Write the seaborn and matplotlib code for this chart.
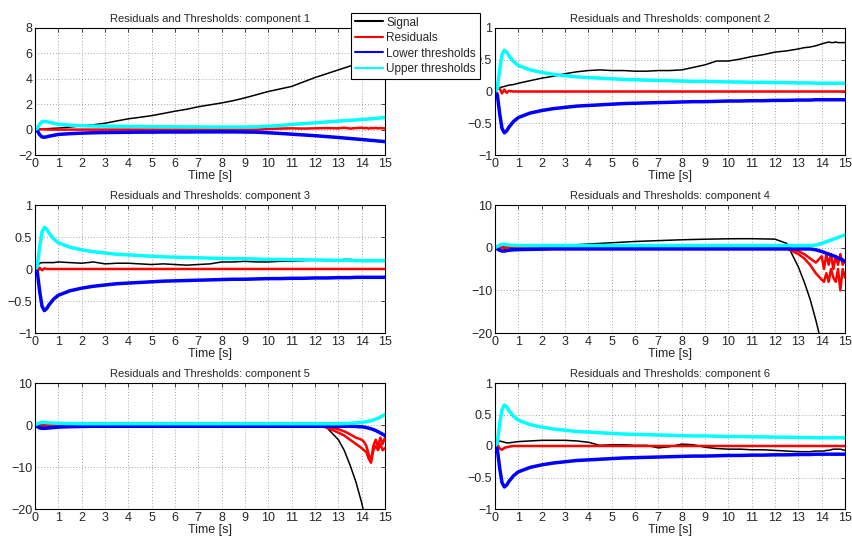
import matplotlib
matplotlib.use("Agg")
import matplotlib.pyplot as plt
from matplotlib.lines import Line2D
from matplotlib.ticker import FuncFormatter, MultipleLocator
import seaborn as sns

# time axis shared by every component
time = [0, 0.1, 0.2, 0.3, 0.4, 0.5, 0.6, 0.8,
        1, 1.5, 2, 2.5, 3, 3.5, 4, 4.5, 5, 5.5, 6, 6.5,
        7, 7.5, 8, 8.5, 9, 9.5, 10, 10.5, 11, 11.5, 12, 12.5,
        13, 13.25, 13.5, 13.75,
        14, 14.1, 14.2, 14.3, 14.4, 14.5, 14.6, 14.7, 14.8, 14.9, 15]

# component 1
signal_1 = [0, 0.02, 0.04, 0.05, 0.06, 0.07, 0.08, 0.1,
            0.12, 0.2, 0.3, 0.38, 0.5, 0.68, 0.85, 0.97, 1.1, 1.27, 1.45, 1.6,
            1.8, 1.95, 2.1, 2.28, 2.5, 2.75, 3.0, 3.2, 3.4, 3.75, 4.1, 4.4,
            4.7, 4.85, 5.0, 5.15,
            5.3, 5.36, 5.42, 5.48, 5.54, 5.6, 5.66, 5.72, 5.78, 5.84, 5.9]
resid_1 = [0, 0, 0.02, 0.03, 0.02, 0.01, 0, 0,
           0, 0, 0, 0, 0, 0, 0, 0, 0, 0, 0, 0,
           0, 0, 0, 0, 0, 0, 0.05, 0.08, 0.1, 0.08, 0.1, 0.12,
           0.1, 0.15, 0.08, 0.12,
           0.15, 0.1, 0.13, 0.08, 0.12, 0.1, 0.14, 0.09, 0.12, 0.1, 0.1]
lower_1 = [0, -0.1, -0.4, -0.58, -0.6, -0.57, -0.52, -0.45,
           -0.38, -0.32, -0.28, -0.25, -0.23, -0.22, -0.21, -0.2, -0.2, -0.19, -0.19, -0.19,
           -0.18, -0.18, -0.18, -0.18, -0.19, -0.2, -0.25, -0.3, -0.36, -0.42, -0.48, -0.55,
           -0.62, -0.66, -0.7, -0.74,
           -0.78, -0.8, -0.81, -0.83, -0.85, -0.86, -0.88, -0.9, -0.91, -0.93, -0.95]
upper_1 = [0, 0.1, 0.45, 0.62, 0.65, 0.62, 0.58, 0.5,
           0.42, 0.35, 0.3, 0.28, 0.27, 0.26, 0.25, 0.24, 0.23, 0.22, 0.22, 0.21,
           0.21, 0.2, 0.2, 0.2, 0.2, 0.22, 0.27, 0.33, 0.4, 0.47, 0.53, 0.6,
           0.67, 0.7, 0.73, 0.76,
           0.8, 0.81, 0.82, 0.84, 0.85, 0.86, 0.88, 0.9, 0.91, 0.93, 0.95]

# thresholds of components 2, 3 and 6 look the same
lower_small = [0, -0.05, -0.35, -0.58, -0.65, -0.62, -0.56, -0.47,
               -0.41, -0.34, -0.30, -0.27, -0.25, -0.23, -0.22, -0.21, -0.20, -0.19, -0.185, -0.18,
               -0.175, -0.17, -0.165, -0.16, -0.16, -0.155, -0.15, -0.15, -0.145, -0.145, -0.14, -0.14,
               -0.135, -0.135, -0.135, -0.13,
               -0.13, -0.13, -0.13, -0.13, -0.13, -0.13, -0.13, -0.13, -0.13, -0.13, -0.13]
upper_small = [0, 0.05, 0.35, 0.58, 0.65, 0.62, 0.56, 0.47,
               0.41, 0.34, 0.30, 0.27, 0.25, 0.23, 0.22, 0.21, 0.20, 0.19, 0.185, 0.18,
               0.175, 0.17, 0.165, 0.16, 0.16, 0.155, 0.15, 0.15, 0.145, 0.145, 0.14, 0.14,
               0.135, 0.135, 0.135, 0.13,
               0.13, 0.13, 0.13, 0.13, 0.13, 0.13, 0.13, 0.13, 0.13, 0.13, 0.13]

# component 2
signal_2 = [0, 0.03, 0.06, 0.07, 0.08, 0.09, 0.1, 0.11,
            0.13, 0.17, 0.21, 0.24, 0.28, 0.31, 0.33, 0.34, 0.33, 0.33, 0.32, 0.32,
            0.33, 0.33, 0.34, 0.38, 0.42, 0.48, 0.48, 0.51, 0.55, 0.58, 0.62, 0.64,
            0.67, 0.69, 0.7, 0.72,
            0.75, 0.76, 0.77, 0.78, 0.77, 0.77, 0.78, 0.77, 0.77, 0.77, 0.77]
resid_2 = [0, 0.04, 0.05, -0.03, 0.03, -0.02, 0.01, 0,
           0, 0, 0, 0, 0, 0, 0, 0, 0, 0, 0, 0,
           0, 0, 0, 0, 0, 0, 0, 0, 0, 0, 0, 0,
           0, 0, 0, 0,
           0, 0, 0, 0, 0, 0, 0, 0, 0, 0, 0]

# component 3
signal_3 = [0, 0.05, 0.09, 0.1, 0.1, 0.1, 0.1, 0.1,
            0.11, 0.1, 0.09, 0.11, 0.08, 0.09, 0.09, 0.08, 0.07, 0.08, 0.07, 0.06,
            0.07, 0.08, 0.11, 0.11, 0.12, 0.11, 0.11, 0.12, 0.12, 0.13, 0.14, 0.13,
            0.14, 0.15, 0.15, 0.14,
            0.12, 0.12, 0.12, 0.12, 0.12, 0.12, 0.12, 0.12, 0.12, 0.12, 0.12]
resid_3 = [0, -0.05, 0.02, -0.02, 0.01, 0, 0, 0,
           0, 0, 0, 0, 0, 0, 0, 0, 0, 0, 0, 0,
           0, 0, 0, 0, 0, 0, 0, 0, 0, 0, 0, 0,
           0, 0, 0, 0,
           0, 0, 0, 0, 0, 0, 0, 0, 0, 0, 0]

# component 4
signal_4 = [0, 0.02, 0.05, 0.08, 0.1, 0.12, 0.15, 0.18,
            0.2, 0.28, 0.35, 0.45, 0.55, 0.7, 0.85, 1.0, 1.15, 1.3, 1.45, 1.55,
            1.65, 1.75, 1.85, 1.92, 1.98, 2.03, 2.08, 2.1, 2.1, 2.05, 2.0, 1.0,
            -4.5, -8.0, -12.0, -17.0,
            -22.5, -25.0, -27.5, -30.0, -32.5, -35.0, -37.5, -40.0, -42.5, -45.0, -47.5]
resid_4a = [0, 0.3, -0.5, 0.4, -0.3, 0.2, 0, 0,
            0, 0, 0, 0, 0, 0, 0, 0, 0, 0, 0, 0,
            0, 0, 0, 0, 0, 0, 0, 0, 0, 0, 0, 0,
            -0.8, -1.5, -2.5, -3.5,
            -2.0, -5.0, -1.5, -4.0, -1.5, -5.0, -2.0, -4.0, -1.5, -4.0, -3.0]
resid_4b = [0, 0.3, -0.5, 0.4, -0.3, 0.2, 0, 0,
            0, 0, 0, 0, 0, 0, 0, 0, 0, 0, 0, 0,
            0, 0, 0, 0, 0, 0, 0, 0, 0, 0, 0, -0.2,
            -1.5, -2.5, -4.0, -6.0,
            -7.5, -8.0, -6.0, -8.0, -5.0, -7.0, -8.0, -5.0, -10.0, -5.0, -7.0]
lower_4 = [0, -0.3, -0.6, -0.8, -0.8, -0.7, -0.6, -0.5,
           -0.45, -0.4, -0.35, -0.3, -0.3, -0.3, -0.3, -0.3, -0.3, -0.3, -0.3, -0.3,
           -0.3, -0.3, -0.3, -0.3, -0.3, -0.3, -0.3, -0.3, -0.3, -0.3, -0.3, -0.3,
           -0.3, -0.3, -0.3, -0.5,
           -0.9, -1.1, -1.3, -1.5, -1.7, -1.9, -2.1, -2.4, -2.6, -2.9, -3.2]
upper_4 = [0, 0.3, 0.6, 0.8, 0.8, 0.7, 0.6, 0.55,
           0.5, 0.5, 0.5, 0.5, 0.5, 0.5, 0.5, 0.5, 0.5, 0.5, 0.5, 0.5,
           0.5, 0.5, 0.5, 0.5, 0.5, 0.5, 0.5, 0.5, 0.5, 0.5, 0.5, 0.5,
           0.5, 0.5, 0.5, 0.6,
           1.0, 1.2, 1.4, 1.6, 1.8, 2.0, 2.2, 2.4, 2.6, 2.8, 3.0]

# component 5
signal_5 = [0, 0, 0, 0, 0, 0, 0, 0,
            0, 0, 0, 0, 0, 0, 0, 0, 0, 0, 0, 0,
            0, 0, 0, 0, 0, 0, 0, 0, 0, 0, 0, -0.6,
            -3.5, -6.0, -9.5, -13.5,
            -18.5, -21.0, -23.5, -26.0, -28.5, -31.0, -33.5, -36.0, -38.5, -41.0, -43.5]
resid_5a = [0, -0.3, -0.4, -0.3, -0.3, -0.2, -0.2, -0.1,
            0, 0, 0, 0, 0, 0, 0, 0, 0, 0, 0, 0,
            0, 0, 0, 0, 0, 0, 0, 0, 0, 0, 0, -0.3,
            -1.0, -1.5, -2.2, -3.0,
            -3.5, -4.0, -5.0, -7.0, -8.5, -5.0, -3.5, -5.0, -3.0, -4.5, -3.0]
resid_5b = [0, -0.3, -0.4, -0.3, -0.3, -0.2, -0.2, -0.1,
            0, 0, 0, 0, 0, 0, 0, 0, 0, 0, 0, 0,
            0, 0, 0, 0, 0, 0, 0, 0, 0, 0, 0, -0.6,
            -1.8, -2.5, -3.5, -4.5,
            -5.5, -6.0, -6.5, -8.0, -9.0, -6.0, -5.0, -6.0, -4.5, -6.0, -5.5]
lower_5 = [0, -0.4, -0.7, -0.8, -0.8, -0.75, -0.7, -0.6,
           -0.5, -0.4, -0.35, -0.3, -0.3, -0.3, -0.3, -0.3, -0.3, -0.3, -0.3, -0.3,
           -0.3, -0.3, -0.3, -0.3, -0.3, -0.3, -0.3, -0.3, -0.3, -0.3, -0.3, -0.3,
           -0.3, -0.3, -0.3, -0.35,
           -0.45, -0.5, -0.6, -0.75, -0.9, -1.1, -1.3, -1.6, -1.9, -2.2, -2.5]
upper_5 = [0, 0.3, 0.5, 0.6, 0.6, 0.55, 0.5, 0.45,
           0.4, 0.35, 0.3, 0.3, 0.3, 0.3, 0.3, 0.3, 0.3, 0.3, 0.3, 0.3,
           0.3, 0.3, 0.3, 0.3, 0.3, 0.3, 0.3, 0.3, 0.3, 0.3, 0.3, 0.3,
           0.3, 0.35, 0.4, 0.5,
           0.6, 0.7, 0.8, 0.9, 1.0, 1.2, 1.4, 1.6, 1.9, 2.2, 2.5]

# component 6
signal_6 = [0, 0.04, 0.08, 0.07, 0.06, 0.05, 0.05, 0.06,
            0.07, 0.08, 0.09, 0.09, 0.09, 0.08, 0.06, 0.01, 0.02, 0.02, 0.01, 0.01,
            -0.03, -0.01, 0.03, 0.02, -0.02, -0.04, -0.05, -0.05, -0.06, -0.06, -0.07, -0.08,
            -0.09, -0.09, -0.09, -0.08,
            -0.08, -0.08, -0.07, -0.07, -0.06, -0.05, -0.05, -0.05, -0.05, -0.06, -0.07]
resid_6 = [0, 0.02, -0.04, -0.06, -0.03, -0.02, -0.01, 0,
           0, 0, 0, 0, 0, 0, 0, 0, 0, 0, 0, 0,
           0, 0, 0, 0, 0, 0, 0, 0, 0, 0, 0, 0,
           0, 0, 0, 0,
           0, 0, 0, 0, 0, 0, 0, 0, 0, 0, 0]

signals = [signal_1, signal_2, signal_3, signal_4, signal_5, signal_6]
residuals = [[resid_1], [resid_2], [resid_3], [resid_4a, resid_4b], [resid_5a, resid_5b], [resid_6]]
lowers = [lower_1, lower_small, lower_small, lower_4, lower_5, lower_small]
uppers = [upper_1, upper_small, upper_small, upper_4, upper_5, upper_small]

y_limits = [(-2, 8), (-1, 1), (-1, 1), (-20, 10), (-20, 10), (-1, 1)]
y_steps = [2, 0.5, 0.5, 10, 10, 0.5]

legend_labels = ["Signal", "Residuals", "Lower thresholds", "Upper thresholds"]
colors = ["black", "#ff0000", "#0000ff", "#00ffff"]

sns.set_style("white")
plt.rcParams["font.family"] = ["Liberation Sans", "DejaVu Sans"]

W, H = 852, 538
fig = plt.figure(figsize=(W / 100, H / 100), dpi=100)

# axes boxes in pixels: left, top, right, bottom
lefts = [35, 495]
rows = [(28, 155), (205, 333), (383, 509)]


def minus_fmt(v, pos):
    return f"{v:g}".replace("-", "\u2212")


for i in range(6):
    r, c = divmod(i, 2)
    top, bottom = rows[r]
    left = lefts[c]
    ax = fig.add_axes([left / W, 1 - bottom / H, 350 / W, (bottom - top) / H])

    sns.lineplot(x=time, y=signals[i], ax=ax, color=colors[0], linewidth=1.1,
                 sort=False, estimator=None)
    for res in residuals[i]:
        sns.lineplot(x=time, y=res, ax=ax, color=colors[1], linewidth=1.8,
                     sort=False, estimator=None)
    sns.lineplot(x=time, y=lowers[i], ax=ax, color=colors[2], linewidth=2.5,
                 sort=False, estimator=None)
    sns.lineplot(x=time, y=uppers[i], ax=ax, color=colors[3], linewidth=2.5,
                 sort=False, estimator=None)

    ax.set_xlim(0, 15)
    ax.set_ylim(*y_limits[i])
    ax.xaxis.set_major_locator(MultipleLocator(1))
    ax.yaxis.set_major_locator(MultipleLocator(y_steps[i]))
    ax.yaxis.set_major_formatter(FuncFormatter(minus_fmt))
    ax.grid(True, linestyle=(0, (1, 2.5)), color="#888888", linewidth=0.6)
    ax.tick_params(direction="in", top=True, right=True, length=3,
                   labelsize=9, pad=2, width=0.6)
    for s in ax.spines.values():
        s.set_color("black")
        s.set_linewidth(0.8)
    ax.set_title(f"Residuals and Thresholds: component {i + 1}", fontsize=8, pad=4)
    ax.set_xlabel("Time [s]", fontsize=9, labelpad=0)
    ax.set_ylabel("")

handles = [Line2D([], [], color=col, linewidth=1.5) for col in colors]
leg = fig.legend(handles, legend_labels, loc="upper left",
                 bbox_to_anchor=(351 / W, 1 - 13 / H), fontsize=8.5,
                 frameon=True, fancybox=False, framealpha=1, edgecolor="black",
                 handlelength=2.4, handletextpad=0.3, labelspacing=0.3,
                 borderpad=0.3, borderaxespad=0)
leg.get_frame().set_linewidth(0.8)

fig.savefig("out.png", dpi=100)
